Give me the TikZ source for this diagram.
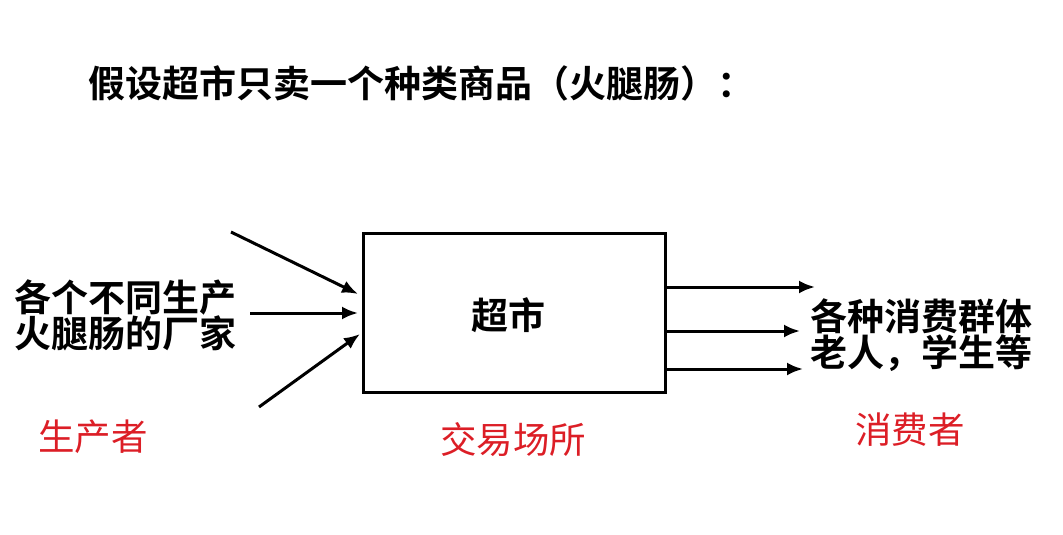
\documentclass[tikz,border=0pt]{standalone}
\usepackage{fontspec}
\newfontfamily\cjk{Noto Sans CJK SC}
\newfontfamily\cjkb{Noto Sans CJK SC Bold}
\usetikzlibrary{arrows.meta}
\definecolor{lblred}{RGB}{220,30,38}
\begin{document}
\begin{tikzpicture}[x=1pt,y=-1pt,
  blk/.style={font=\cjkb\fontsize{37}{36}\selectfont,text=black,inner sep=0pt,align=left},
  red/.style={font=\cjk\fontsize{36.5}{37}\selectfont,text=lblred,inner sep=0pt},
  arr/.style={line width=3pt,-{Latex[length=16pt,width=13pt]}}]
\useasboundingbox (0,0) rectangle (1063,535);
\node[blk,anchor=west] (title) at (88,83) {假设超市只卖一个种类商品（火腿肠）：};
\node[draw,line width=3pt,minimum width=302pt,minimum height=159pt,inner sep=0pt] (box) at (514,312.5) {};
\node[blk] (mkt) at (508,315) {超市};
\node[blk,anchor=west] (prod) at (14,315) {各个不同生产\\火腿肠的厂家};
\node[blk,anchor=west] (cons) at (810,335) {各种消费群体\\老人，学生等};
\node[red,anchor=west] (pl) at (38,437) {生产者};
\node[red,anchor=west] (ml) at (440,440) {交易场所};
\node[red,anchor=west] (cl) at (855,430) {消费者};
\coordinate (a1) at (231,232);
\coordinate (a2) at (250,313);
\coordinate (a3) at (259,407);
\coordinate (e1) at (358,294);
\coordinate (e2) at (358,313);
\coordinate (e3) at (360,334);
\draw[arr] (a1) -- (e1);
\draw[arr] (a2) -- (e2);
\draw[arr] (a3) -- (e3);
\coordinate (r1) at (815,287);
\coordinate (r2) at (800,331);
\coordinate (r3) at (803,369);
\draw[arr] (box.east |- r1) -- (r1);
\draw[arr] (box.east |- r2) -- (r2);
\draw[arr] (box.east |- r3) -- (r3);
\end{tikzpicture}
\end{document}
